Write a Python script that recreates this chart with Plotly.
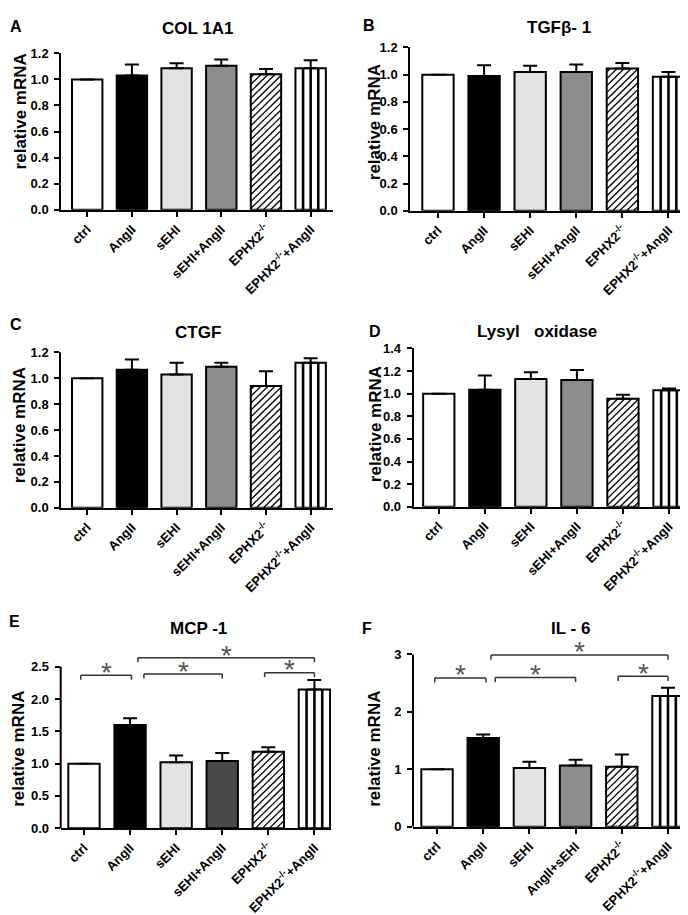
import plotly.graph_objects as go

# ---------------- data ----------------
categories = ["ctrl", "AngII", "sEHI", "sEHI+AngII", "EPHX2<sup>-/-</sup>", "EPHX2<sup>-/-</sup>+AngII"]
categories_F = ["ctrl", "AngII", "sEHI", "AngII+sEHI", "EPHX2<sup>-/-</sup>", "EPHX2<sup>-/-</sup>+AngII"]

col1a1_mean = [1.0, 1.03, 1.085, 1.105, 1.04, 1.085]
col1a1_err = [0, 0.085, 0.04, 0.047, 0.04, 0.062]

tgfb1_mean = [1.0, 0.99, 1.02, 1.02, 1.045, 0.985]
tgfb1_err = [0, 0.08, 0.045, 0.055, 0.04, 0.035]

ctgf_mean = [1.0, 1.065, 1.03, 1.09, 0.94, 1.12]
ctgf_err = [0, 0.08, 0.09, 0.03, 0.115, 0.035]

lox_mean = [1.0, 1.035, 1.13, 1.12, 0.955, 1.03]
lox_err = [0, 0.125, 0.06, 0.09, 0.035, 0.015]

mcp1_mean = [1.0, 1.6, 1.02, 1.04, 1.185, 2.15]
mcp1_err = [0, 0.105, 0.105, 0.125, 0.07, 0.145]

il6_mean = [1.0, 1.545, 1.025, 1.065, 1.045, 2.275]
il6_err = [0, 0.06, 0.105, 0.1, 0.215, 0.145]

# significance brackets: (start category pos, end category pos, height)
sig_E = [(-0.07, 1.03, 2.37), (1.3, 3.0, 2.39), (3.92, 5.0, 2.41), (1.17, 5.0, 2.64)]
sig_F = [(-0.05, 1.06, 2.59), (1.26, 3.0, 2.60), (3.92, 5.0, 2.62), (1.17, 5.0, 2.99)]

# ---------------- styles ----------------
FONT = "Liberation Sans, Arial, sans-serif"
fills = ["white", "black", "#e3e3e3", "#8c8c8c", "white", "white"]
fills_E = ["white", "black", "#e3e3e3", "#4a4a4a", "white", "white"]
HATCH_IDX = 4       # diagonal hatched bar
STRIPE_IDX = 5      # vertically striped bar
BAR_W = 0.68
HATCH_STEP = 7.0    # px between diagonal lines
STRIPE_N = 4        # sections of the striped bar

W, H = 688, 915


def px_x(p):
    return p / W


def px_y(p):
    return 1 - p / H


panels = [
    dict(title="COL 1A1", letter="A", cats=categories, mean=col1a1_mean, err=col1a1_err, fills=fills,
         xd=(53.3, 325), yd=(39, 198), xr=(-0.58, 5.5), yr=(0, 1.2), tv=[0, 0.2, 0.4, 0.6, 0.8, 1.0, 1.2],
         fmt=".1f", title_xy=(190, 14), letter_xy=(8, 12), ylab_xy=(12, 98)),
    dict(title="TGFβ- 1", letter="B", cats=categories, mean=tgfb1_mean, err=tgfb1_err, fills=fills,
         xd=(402.3, 684), yd=(33, 199), xr=(-0.6, 5.51), yr=(0, 1.2), tv=[0, 0.2, 0.4, 0.6, 0.8, 1.0, 1.2],
         fmt=".1f", title_xy=(551, 13), letter_xy=(361, 11), ylab_xy=(366, 109)),
    dict(title="CTGF", letter="C", cats=categories, mean=ctgf_mean, err=ctgf_err, fills=fills,
         xd=(53.3, 325), yd=(343, 501), xr=(-0.58, 5.5), yr=(0, 1.2), tv=[0, 0.2, 0.4, 0.6, 0.8, 1.0, 1.2],
         fmt=".1f", title_xy=(190, 323), letter_xy=(8, 315), ylab_xy=(11, 417)),
    dict(title="Lysyl   oxidase", letter="D", cats=categories, mean=lox_mean, err=lox_err, fills=fills,
         xd=(405.7, 684), yd=(339, 500), xr=(-0.545, 5.5), yr=(0, 1.4),
         tv=[0, 0.2, 0.4, 0.6, 0.8, 1.0, 1.2, 1.4],
         fmt=".1f", title_xy=(529, 322), letter_xy=(367, 322), ylab_xy=(367, 416)),
    dict(title="MCP -1", letter="E", cats=categories, mean=mcp1_mean, err=mcp1_err, fills=fills_E,
         xd=(52.7, 323), yd=(633.2, 826.7), xr=(-0.505, 5.36), yr=(0, 2.95), tv=[0, 0.5, 1.0, 1.5, 2.0, 2.5],
         fmt=".1f", title_xy=(190, 624), letter_xy=(6, 617), ylab_xy=(11, 746), sig=sig_E, axtop=2.5,
         tick=0.07, staroff=0.12),
    dict(title="IL - 6", letter="F", cats=categories_F, mean=il6_mean, err=il6_err, fills=fills,
         xd=(405, 684), yd=(632.6, 825.3), xr=(-0.52, 5.52), yr=(0, 3.3), tv=[0, 1, 2, 3],
         fmt="d", title_xy=(562, 624), letter_xy=(359, 624), ylab_xy=(367, 746), sig=sig_F, axtop=3,
         tick=0.08, staroff=0.14),
]

fig = go.Figure()
annotations = []
shapes = []

for i, p in enumerate(panels, start=1):
    xa = "x" if i == 1 else f"x{i}"
    ya = "y" if i == 1 else f"y{i}"
    fig.add_trace(go.Bar(
        x=p["cats"], y=p["mean"], xaxis=xa, yaxis=ya, width=BAR_W,
        marker=dict(color=p["fills"], line=dict(color="black", width=2)),
        error_y=dict(type="data", array=p["err"], arrayminus=[0] * len(p["err"]),
                     symmetric=False, color="black", thickness=2, width=7),
        showlegend=False, hoverinfo="skip",
    ))
    # pixel scale of this subplot (for the hatch geometry)
    sx = (p["xd"][1] - p["xd"][0]) / (p["xr"][1] - p["xr"][0])
    sy = (p["yd"][1] - p["yd"][0]) / (p["yr"][1] - p["yr"][0])

    # diagonal hatch inside bar HATCH_IDX
    m = p["mean"][HATCH_IDX]
    left = HATCH_IDX - BAR_W / 2
    wpx, hpx = BAR_W * sx, m * sy
    k = -hpx + HATCH_STEP / 2
    while k < wpx:
        xs, xe = max(0.0, k), min(wpx, hpx + k)
        if xe > xs:
            shapes.append(dict(type="line", xref=xa, yref=ya,
                               x0=left + xs / sx, y0=(xs - k) / sy,
                               x1=left + xe / sx, y1=(xe - k) / sy,
                               line=dict(color="black", width=1.3)))
        k += HATCH_STEP
    # vertical stripes inside bar STRIPE_IDX
    m = p["mean"][STRIPE_IDX]
    left = STRIPE_IDX - BAR_W / 2
    for j in range(1, STRIPE_N):
        xv = left + BAR_W * j / STRIPE_N
        shapes.append(dict(type="line", xref=xa, yref=ya, x0=xv, x1=xv, y0=0, y1=m,
                           line=dict(color="black", width=2.6)))

    custom_line = "sig" in p
    xkey = "xaxis" if i == 1 else f"xaxis{i}"
    ykey = "yaxis" if i == 1 else f"yaxis{i}"
    fig.layout[xkey] = dict(
        domain=[px_x(p["xd"][0]), px_x(p["xd"][1])], anchor=ya, range=list(p["xr"]),
        type="category", categoryorder="array", categoryarray=p["cats"],
        showline=True, linecolor="black", linewidth=2, ticks="outside", ticklen=5, tickwidth=2,
        tickcolor="black", tickangle=-45, showgrid=False, zeroline=False, fixedrange=True,
        tickfont=dict(family=FONT, size=13, color="black", weight="bold"),
    )
    fig.layout[ykey] = dict(
        domain=[px_y(p["yd"][1]), px_y(p["yd"][0])], anchor=xa, range=list(p["yr"]),
        showline=not custom_line, linecolor="black", linewidth=2, ticks="outside", ticklen=5,
        tickwidth=2, tickcolor="black", tickvals=p["tv"], tickformat=p["fmt"], showgrid=False,
        zeroline=False, fixedrange=True, ticklabelstandoff=3,
        tickfont=dict(family=FONT, size=13, color="black", weight="bold"),
    )
    annotations.append(dict(text=p["title"], x=px_x(p["title_xy"][0]), y=px_y(p["title_xy"][1]),
                            xref="paper", yref="paper", showarrow=False, xanchor="center", yanchor="middle",
                            font=dict(family=FONT, size=17, color="black", weight="bold")))
    annotations.append(dict(text=p["letter"], x=px_x(p["letter_xy"][0]), y=px_y(p["letter_xy"][1]),
                            xref="paper", yref="paper", showarrow=False, xanchor="center", yanchor="middle",
                            font=dict(family=FONT, size=16, color="black", weight="bold")))
    annotations.append(dict(text="relative mRNA", x=px_x(p["ylab_xy"][0]), y=px_y(p["ylab_xy"][1]),
                            xref="paper", yref="paper", showarrow=False, xanchor="center", yanchor="middle",
                            textangle=-90,
                            font=dict(family=FONT, size=17, color="black", weight="bold")))
    if custom_line:
        shapes.append(dict(type="line", xref=f"{xa} domain", yref=ya, x0=0, x1=0, y0=0, y1=p["axtop"],
                           line=dict(color="black", width=2)))
        for (a, b, h) in p["sig"]:
            t = p["tick"]
            for (x0, y0, x1, y1) in [(a, h, b, h), (a, h, a, h - t), (b, h, b, h - t)]:
                shapes.append(dict(type="line", xref=xa, yref=ya, x0=x0, x1=x1, y0=y0, y1=y1,
                                   line=dict(color="#333333", width=1.5)))
            annotations.append(dict(text="*", x=(a + b) / 2, y=h + p["staroff"], xref=xa, yref=ya,
                                    showarrow=False, xanchor="center", yanchor="middle", yshift=-5,
                                    font=dict(family=FONT, size=28, color="#555555")))

fig.update_layout(
    width=W, height=H, margin=dict(l=0, r=0, t=0, b=0),
    paper_bgcolor="white", plot_bgcolor="white",
    annotations=annotations, shapes=shapes,
    font=dict(family=FONT, color="black"),
)

fig.write_html("out.html")
